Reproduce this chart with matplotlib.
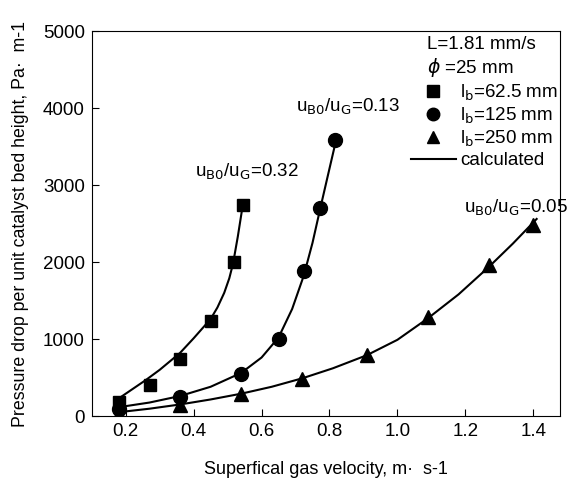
import matplotlib.pyplot as plt
from matplotlib.lines import Line2D

plt.rcParams['font.family'] = ['Liberation Sans', 'DejaVu Sans']

# measured points, lb = 62.5 / 125 / 250 mm
sq_x = [0.18, 0.27, 0.36, 0.45, 0.52, 0.545]
sq_y = [180, 400, 740, 1240, 2000, 2740]
ci_x = [0.18, 0.36, 0.54, 0.65, 0.725, 0.773, 0.816]
ci_y = [90, 250, 545, 1000, 1880, 2700, 3580]
tr_x = [0.18, 0.36, 0.54, 0.72, 0.91, 1.09, 1.27, 1.40]
tr_y = [30, 140, 280, 480, 790, 1290, 1960, 2480]

# calculated curves
sq_cx = [0.18, 0.26, 0.30, 0.36, 0.40, 0.45, 0.47, 0.49, 0.505, 0.516, 0.53, 0.545]
sq_cy = [230, 470, 600, 820, 1010, 1260, 1410, 1600, 1790, 1980, 2330, 2750]
ci_cx = [0.18, 0.27, 0.36, 0.45, 0.54, 0.60, 0.65, 0.69, 0.724, 0.75, 0.773, 0.795, 0.815]
ci_cy = [115, 175, 260, 380, 560, 760, 1020, 1390, 1820, 2250, 2700, 3120, 3500]
tr_cx = [0.18, 0.27, 0.36, 0.45, 0.54, 0.63, 0.72, 0.81, 0.91, 1.00, 1.09, 1.18, 1.27, 1.34, 1.41]
tr_cy = [50, 95, 150, 215, 290, 380, 490, 620, 790, 990, 1270, 1580, 1940, 2240, 2560]

fig = plt.figure(figsize=(5.70, 4.79), dpi=100)
ax = fig.add_axes([0.161, 0.1315, 0.821, 0.8035])

ax.plot(sq_cx, sq_cy, 'k-', lw=1.5)
ax.plot(ci_cx, ci_cy, 'k-', lw=1.5)
ax.plot(tr_cx, tr_cy, 'k-', lw=1.5)
ax.plot(sq_x, sq_y, 'ks', ms=9, ls='none')
ax.plot(ci_x, ci_y, 'ko', ms=10, ls='none')
ax.plot(tr_x, tr_y, 'k^', ms=10, ls='none')

ax.set_xlim(0.1, 1.478)
ax.set_ylim(0, 5000)
ax.set_xticks([0.2, 0.4, 0.6, 0.8, 1.0, 1.2, 1.4])
ax.set_yticks([0, 1000, 2000, 3000, 4000, 5000])
ax.tick_params(direction='in', length=5, labelsize=13.5, pad=5)
ax.set_xlabel('Superfical gas velocity, m\u00b7  s-1', fontsize=13, labelpad=15)
ax.set_ylabel('Pressure drop per unit catalyst bed height, Pa\u00b7  m-1', fontsize=12.8, labelpad=10)

ax.text(0.405, 3170, r'u$_{\rm B0}$/u$_{\rm G}$=0.32', fontsize=13.5, va='center')
ax.text(0.70, 4010, r'u$_{\rm B0}$/u$_{\rm G}$=0.13', fontsize=13.5, va='center')
ax.text(1.195, 2700, r'u$_{\rm B0}$/u$_{\rm G}$=0.05', fontsize=13.5, va='center')

ax.text(0.716, 0.966, 'L=1.81 mm/s', transform=ax.transAxes, fontsize=13.5, va='center')
ax.text(0.716, 0.906, r'$\phi$ =25 mm', transform=ax.transAxes, fontsize=13.5, va='center')

handles = [
    Line2D([], [], color='k', marker='s', ms=8, ls='none'),
    Line2D([], [], color='k', marker='o', ms=9, ls='none'),
    Line2D([], [], color='k', marker='^', ms=9, ls='none'),
    Line2D([], [], color='k', lw=1.5),
]
labels = [r'l$_{\rm b}$=62.5 mm', r'l$_{\rm b}$=125 mm', r'l$_{\rm b}$=250 mm', 'calculated']
ax.legend(handles, labels, loc='upper right', bbox_to_anchor=(1.025, 0.90), frameon=False,
          fontsize=13.5, handlelength=2.4, handletextpad=0.25, labelspacing=0.15, borderpad=0.2)

fig.savefig('out.png', dpi=100)
